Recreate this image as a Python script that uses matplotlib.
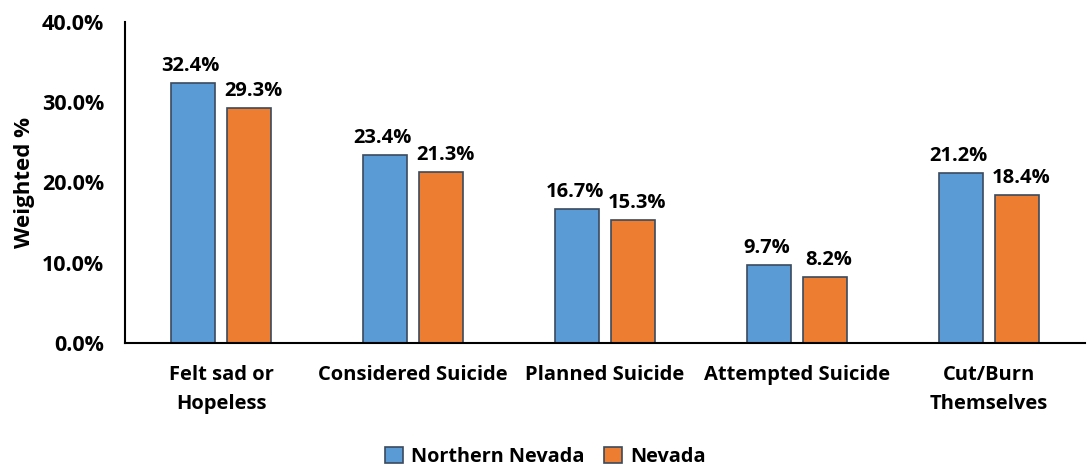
import matplotlib.pyplot as plt
import numpy as np

categories = ["Felt sad or\nHopeless", "Considered Suicide", "Planned Suicide",
              "Attempted Suicide", "Cut/Burn\nThemselves"]
northern_nevada = [32.4, 23.4, 16.7, 9.7, 21.2]
nevada = [29.3, 21.3, 15.3, 8.2, 18.4]
series_names = ["Northern Nevada", "Nevada"]

BLUE = "#5B9BD5"
ORANGE = "#ED7D31"
EDGE = "#3A4A5E"

plt.rcParams["font.family"] = ["Open Sans", "DejaVu Sans"]
plt.rcParams["font.weight"] = "bold"


def main():
    fig = plt.figure(figsize=(10.91, 4.67), dpi=100)
    ax = fig.add_axes([0.1146, 0.2655, 0.88, 0.6875])

    x = np.arange(len(categories))
    width = 0.23
    gap = 0.03
    b1 = ax.bar(x - width / 2 - gap, northern_nevada, width, color=BLUE,
                edgecolor=EDGE, linewidth=1.2, label=series_names[0])
    b2 = ax.bar(x + width / 2 + gap, nevada, width, color=ORANGE,
                edgecolor=EDGE, linewidth=1.2, label=series_names[1])

    # data labels, nudged apart a little like the original
    for bars, nudge in ((b1, -2), (b2, 3)):
        for rect in bars:
            h = rect.get_height()
            ax.annotate(f"{h:.1f}%", (rect.get_x() + rect.get_width() / 2, h),
                        xytext=(nudge, 5), textcoords="offset points",
                        ha="center", va="bottom", fontsize=14.5, fontweight="bold")

    ax.set_xlim(-0.5, len(categories) - 0.5)
    ax.set_ylim(0, 40)
    ax.set_yticks([0, 10, 20, 30, 40])
    ax.set_yticklabels([f"{v:.1f}%" for v in [0, 10, 20, 30, 40]], fontsize=15.5)
    ax.set_xticks(x)
    ax.set_xticklabels(categories, fontsize=14.5, fontweight="bold", linespacing=1.6)
    ax.tick_params(axis="both", length=0)
    ax.tick_params(axis="x", pad=16)
    ax.tick_params(axis="y", pad=15)
    ax.set_ylabel("Weighted %", fontsize=16, fontweight="bold", labelpad=5)

    for side in ("top", "right"):
        ax.spines[side].set_visible(False)
    for side in ("left", "bottom"):
        ax.spines[side].set_linewidth(1.5)
        ax.spines[side].set_color("black")

    fig.legend(loc="lower center", bbox_to_anchor=(0.5, -0.038), ncol=2,
               frameon=False, fontsize=14.3, handlelength=0.9, handleheight=0.9,
               columnspacing=1.0, handletextpad=0.4)

    fig.savefig("out.png", dpi=100)


if __name__ == "__main__":
    main()
